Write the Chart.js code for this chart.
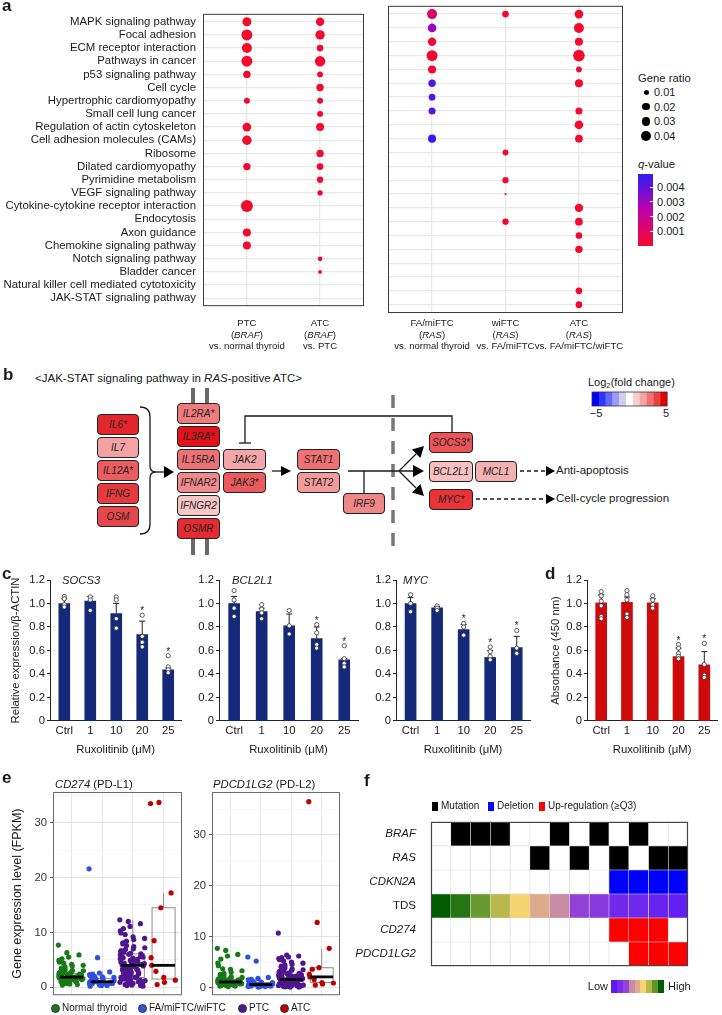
<!DOCTYPE html>
<html>
<head>
<meta charset="UTF-8">
<title>JAK-STAT signaling in RAS-positive ATC</title>
<script src="https://cdn.jsdelivr.net/npm/chart.js"></script>
<style>
  body { margin: 0; background: #fff; font-family: "Liberation Sans", Arial, sans-serif; color: #1a1a1a; }
  #page { position: relative; width: 722px; height: 1015px; overflow: hidden; }
  #page canvas, .t, .gene, .sw { position: absolute; }
  .t { white-space: nowrap; line-height: 1; }
  .t sub { font-size: 0.7em; vertical-align: -0.3em; line-height: 0; }
  .panel { font-weight: bold; font-size: 17px; }
  .xl { font-size: 9.6px; line-height: 11.5px; text-align: center; }
  .gene { box-sizing: border-box; border: 1.2px solid #222; border-radius: 4px; font-style: italic;
          font-size: 10px; display: flex; align-items: center; justify-content: center; color: #222; }
</style>
</head>
<body>
<div id="page">
<svg width="722" height="1015" style="position:absolute;left:0;top:0">
  <g fill="#6a6a6a">
    <rect x="191" y="388" width="4" height="15"/><rect x="205" y="388" width="4" height="15"/>
    <rect x="191" y="539" width="4" height="16"/><rect x="205" y="539" width="4" height="16"/>
  </g>
  <line x1="393" y1="395" x2="393" y2="556" stroke="#777" stroke-width="3.5" stroke-dasharray="13 10"/>
  <g stroke="#1a1a1a" stroke-width="1.3" fill="none">
    <path d="M140,407 Q150,407 150,417 L150,466 Q150,472 156,472 Q150,472 150,478 L150,524 Q150,534 140,534"/>
    <line x1="156" y1="472" x2="165" y2="472"/>
    <polyline points="452,432 452,416 245,416 245,443"/>
    <line x1="239" y1="443" x2="251" y2="443"/>
    <line x1="272" y1="471" x2="282" y2="471"/>
    <line x1="348" y1="471" x2="414" y2="471"/>
    <line x1="364" y1="471" x2="364" y2="493"/>
    <line x1="399" y1="471" x2="416" y2="454"/>
    <line x1="399" y1="471" x2="416" y2="488"/>
    <line x1="520" y1="471" x2="547" y2="471" stroke-dasharray="4 3"/>
    <line x1="476" y1="499" x2="547" y2="499" stroke-dasharray="4 3"/>
  </g>
  <g fill="#000">
    <polygon points="164,466 174,472 164,478"/>
    <polygon points="281,466 291,471 281,476"/>
    <polygon points="413,465 424,471 413,477"/>
    <polygon points="424,446 420.4,458 412,449.6"/>
    <polygon points="424,496 420.4,484 412,492.4"/>
    <polygon points="546,466 555,471 546,476"/>
    <polygon points="546,494 555,499 546,504"/>
  </g>
  <g id="fcbar"></g>
</svg>
</div>

<script>
// ---------------- data ----------------
// panel a: KEGG pathways, gene ratio and q-value per comparison
const pathways = ['MAPK signaling pathway', 'Focal adhesion', 'ECM receptor interaction', 'Pathways in cancer',
  'p53 signaling pathway', 'Cell cycle', 'Hypertrophic cardiomyopathy', 'Small cell lung cancer',
  'Regulation of actin cytoskeleton', 'Cell adhesion molecules (CAMs)', 'Ribosome', 'Dilated cardiomyopathy',
  'Pyrimidine metabolism', 'VEGF signaling pathway', 'Cytokine-cytokine receptor interaction', 'Endocytosis',
  'Axon guidance', 'Chemokine signaling pathway', 'Notch signaling pathway', 'Bladder cancer',
  'Natural killer cell mediated cytotoxicity', 'JAK-STAT signaling pathway'];
const ratioPtcBraf = [0.032, 0.048, 0.040, 0.048, 0.022, null, 0.014, null, 0.030, 0.035, null, 0.022, null, null, 0.058, null, 0.026, 0.026, null, null, null, null];
const qPtcBraf     = [0.0001, 0.0001, 0.0001, 0.0001, 0.0001, null, 0.0002, null, 0.0001, 0.0001, null, 0.0002, null, null, 0.0001, null, 0.0001, 0.0001, null, null, null, null];
const ratioAtcBraf = [0.028, 0.035, 0.018, 0.043, 0.013, 0.022, 0.014, 0.014, 0.026, null, 0.022, 0.018, 0.016, 0.011, null, null, null, null, 0.009, 0.006, null, null];
const qAtcBraf     = [0.0001, 0.0001, 0.0001, 0.0001, 0.0002, 0.0001, 0.0002, 0.0002, 0.0001, null, 0.0001, 0.0002, 0.0002, 0.0002, null, null, null, null, 0.0003, 0.0003, null, null];
const ratioFaRas   = [0.040, 0.030, 0.028, 0.048, 0.026, 0.022, 0.018, 0.020, null, 0.026, null, null, null, null, null, null, null, null, null, null, null, null];
const qFaRas       = [0.0012, 0.0031, 0.0002, 0.0001, 0.0002, 0.0043, 0.0043, 0.0042, null, 0.0049, null, null, null, null, null, null, null, null, null, null, null, null];
const ratioWiRas   = [0.018, null, null, null, null, null, null, null, null, null, 0.014, null, 0.016, 0.002, null, 0.016, null, null, null, null, null, null];
const qWiRas       = [0.0002, null, null, null, null, null, null, null, null, null, 0.0002, null, 0.0002, 0.0010, null, 0.0002, null, null, null, null, null, null];
const ratioAtcRas  = [0.030, 0.040, 0.026, 0.054, 0.013, 0.026, null, 0.020, 0.030, 0.024, null, null, null, null, 0.028, 0.024, 0.018, 0.022, null, null, 0.018, 0.018];
const qAtcRas      = [0.0001, 0.0001, 0.0001, 0.0001, 0.0002, 0.0001, null, 0.0001, 0.0001, 0.0001, null, null, null, null, 0.0001, 0.0001, 0.0002, 0.0001, null, null, 0.0002, 0.0002];
const sizeBreaks = [0.01, 0.02, 0.03, 0.04];
const qBreaks = [0.004, 0.003, 0.002, 0.001];

// panel c / d: ruxolitinib dose response
const doses = ['Ctrl', '1', '10', '20', '25'];
const socs3Mean = [1.00, 1.02, 0.915, 0.735, 0.435];
const socs3Err  = [1.04, 1.06, 1.00, 0.85, 0.45];
const socs3Pts  = [[1.06, 1.04, 0.99, 0.97], [1.056, 1.03, 0.94], [1.056, 1.03, 0.87, 0.79], [0.90, 0.72, 0.67, 0.63], [0.555, 0.46, 0.436, 0.41]];
const socs3Sig  = [0, 0, 0, 1, 1];
const bcl2l1Mean = [1.00, 0.93, 0.81, 0.70, 0.52];
const bcl2l1Err  = [1.06, 0.96, 0.91, 0.80, 0.53];
const bcl2l1Pts  = [[1.11, 1.03, 0.96, 0.89], [0.99, 0.95, 0.92, 0.87], [0.94, 0.81, 0.74], [0.82, 0.75, 0.65, 0.62], [0.64, 0.53, 0.49, 0.46]];
const bcl2l1Sig  = [0, 0, 0, 1, 1];
const mycMean = [1.00, 0.964, 0.777, 0.54, 0.625];
const mycErr  = [1.05, 0.975, 0.82, 0.60, 0.72];
const mycPts  = [[1.075, 1.0, 0.93], [0.98, 0.96, 0.94], [0.83, 0.80, 0.73], [0.63, 0.59, 0.55, 0.52], [0.77, 0.62, 0.575]];
const mycSig  = [0, 0, 1, 1, 1];
const absMean = [1.005, 1.01, 1.005, 0.547, 0.478];
const absErr  = [1.075, 1.055, 1.04, 0.62, 0.59];
const absPts  = [[1.10, 1.065, 1.02, 0.98, 0.89, 0.87], [1.11, 1.075, 1.03, 0.91, 0.88], [1.065, 1.03, 0.99, 0.96], [0.65, 0.62, 0.575, 0.55, 0.53], [0.66, 0.48, 0.39, 0.37]];
const absSig  = [0, 0, 0, 1, 1];

// panel e: FPKM per sample group
const groups = ['Normal thyroid', 'FA/miFTC/wiFTC', 'PTC', 'ATC'];
const cd274Normal = [7.7, 6.3, 5.9, 5.5, 5.2, 4.9, 4.6, 4.4, 4.2, 4.0, 3.9, 3.7, 3.5, 3.4, 3.2, 3.1, 3.0, 2.9, 2.8, 2.7, 2.6, 2.5, 2.5, 2.4, 2.3, 2.3, 2.2, 2.1, 2.1, 2.0, 2.0, 1.9, 1.9, 1.9, 1.8, 1.8, 1.8, 1.7, 1.7, 1.6, 1.6, 1.6, 1.5, 1.5, 1.5, 1.4, 1.4, 1.3, 1.3, 1.2, 1.2, 1.1, 1.0, 1.0, 0.9, 0.8, 0.7, 0.6, 0.5, 0.4];
const cd274Fa = [21.6, 5.4, 2.8, 2.6, 2.4, 2.3, 2.1, 2.0, 1.9, 1.8, 1.7, 1.6, 1.5, 1.4, 1.3, 1.2, 1.2, 1.1, 1.1, 1.0, 1.0, 1.0, 0.9, 0.9, 0.9, 0.8, 0.8, 0.8, 0.7, 0.7, 0.6, 0.6, 0.5, 0.5, 0.4, 0.3, 0.3, 0.2];
const cd274Ptc = [12.3, 12.0, 11.6, 11.1, 10.7, 10.3, 9.9, 9.6, 9.2, 8.9, 8.7, 8.4, 8.1, 7.9, 7.6, 7.4, 7.2, 7.0, 6.9, 6.7, 6.5, 6.4, 6.2, 6.1, 6.0, 5.9, 5.8, 5.6, 5.5, 5.4, 5.3, 5.2, 5.1, 5.0, 4.9, 4.8, 4.7, 4.6, 4.5, 4.4, 4.3, 4.2, 4.1, 4.0, 4.0, 3.9, 3.8, 3.7, 3.6, 3.5, 3.4, 3.3, 3.2, 3.1, 3.0, 2.9, 2.8, 2.7, 2.6, 2.5, 2.4, 2.3, 2.2, 2.1, 2.0, 1.9, 1.8, 1.8, 1.7, 1.6, 1.5, 1.5, 1.4, 1.3, 1.2, 1.2, 1.1, 1.0, 0.9, 0.9, 0.8, 0.7, 0.7, 0.6, 0.5, 0.5, 0.4, 0.3, 0.3, 0.2];
const cd274Atc = [33.5, 33.7, 17.2, 14.5, 8.5, 5.4, 4.0, 2.9, 1.8, 1.3, 0.9, 0.5];
const cd274Box = { q1: [1.45, 0.7, 1.8, 1.5], med: [1.85, 1.0, 4.0, 4.0], q3: [2.5, 1.6, 6.1, 14.5], lo: [0.4, 0.2, 0.2, 0.5], hi: [4.0, 2.9, 12.3, 17.2] };
const pdl2Normal = [7.7, 7.3, 6.5, 6.2, 5.6, 4.8, 4.3, 3.7, 3.6, 3.3, 3.0, 2.8, 2.6, 2.4, 2.3, 2.1, 2.0, 1.9, 1.8, 1.7, 1.6, 1.6, 1.5, 1.5, 1.4, 1.4, 1.3, 1.3, 1.2, 1.2, 1.2, 1.1, 1.1, 1.1, 1.0, 1.0, 1.0, 0.9, 0.9, 0.9, 0.8, 0.8, 0.8, 0.7, 0.7, 0.7, 0.6, 0.6, 0.5, 0.5, 0.4, 0.4, 0.3, 0.3, 0.2];
const pdl2Fa = [6.0, 5.2, 2.0, 1.8, 1.6, 1.5, 1.3, 1.2, 1.1, 1.0, 1.0, 0.9, 0.9, 0.8, 0.8, 0.7, 0.7, 0.7, 0.6, 0.6, 0.6, 0.6, 0.5, 0.5, 0.5, 0.4, 0.4, 0.4, 0.3, 0.3, 0.3, 0.2, 0.2, 0.2, 0.1];
const pdl2Ptc = [10.7, 6.4, 6.2, 6.0, 5.9, 5.7, 5.5, 5.2, 5.0, 4.8, 4.6, 4.4, 4.2, 4.0, 3.9, 3.7, 3.5, 3.4, 3.3, 3.2, 3.1, 3.0, 2.9, 2.8, 2.7, 2.6, 2.6, 2.5, 2.5, 2.4, 2.3, 2.3, 2.2, 2.1, 2.1, 2.0, 2.0, 1.9, 1.9, 1.8, 1.8, 1.7, 1.7, 1.6, 1.6, 1.6, 1.5, 1.5, 1.5, 1.4, 1.4, 1.3, 1.3, 1.3, 1.2, 1.2, 1.1, 1.1, 1.1, 1.0, 1.0, 1.0, 0.9, 0.9, 0.9, 0.8, 0.8, 0.8, 0.7, 0.7, 0.7, 0.6, 0.6, 0.6, 0.5, 0.5, 0.5, 0.4, 0.4, 0.4, 0.3, 0.3, 0.3, 0.2, 0.2, 0.2, 0.1, 0.1];
const pdl2Atc = [36.5, 12.8, 7.7, 3.9, 3.6, 2.6, 2.1, 1.6, 1.0, 0.9, 0.7, 0.5];
const pdl2Box = { q1: [0.65, 0.4, 0.7, 1.0], med: [1.1, 0.6, 1.6, 2.1], q3: [1.6, 1.0, 2.6, 3.9], lo: [0.2, 0.1, 0.1, 0.5], hi: [3.0, 1.8, 5.4, 7.6] };

// panel f: 13 RAS/BRAF ATC cases
const heatRows = ['BRAF', 'RAS', 'CDKN2A', 'TDS', 'CD274', 'PDCD1LG2'];
const brafMut    = [0, 1, 1, 1, 0, 0, 1, 0, 1, 0, 1, 0, 0];
const rasMut     = [0, 0, 0, 0, 0, 1, 0, 1, 0, 1, 0, 1, 1];
const cdkn2aDel  = [0, 0, 0, 0, 0, 0, 0, 0, 0, 1, 1, 1, 1];
const tdsScore   = [1.0, 0.95, 0.86, 0.75, 0.63, 0.5, 0.38, 0.24, 0.19, 0.09, 0.08, 0.05, 0.02];
const cd274Up    = [0, 0, 0, 0, 0, 0, 0, 0, 0, 1, 1, 1, 0];
const pdcd1lg2Up = [0, 0, 0, 0, 0, 0, 0, 0, 0, 0, 1, 1, 1];

// ---------------- helpers ----------------
Chart.defaults.font.family = '"Liberation Sans", Arial, sans-serif';
Chart.defaults.color = '#1a1a1a';
Chart.defaults.animation = false;
Chart.defaults.events = [];
Chart.defaults.plugins.legend.display = false;
Chart.defaults.plugins.tooltip.enabled = false;

const page = document.getElementById('page');

function put(html, x, y, css, anchor) {
  const d = document.createElement('div');
  d.className = 't';
  d.innerHTML = html;
  if (css) d.style.cssText = css;
  d.style.left = x + 'px';
  d.style.top = y + 'px';
  const tx = anchor === 'c' ? '-50%' : anchor === 'r' ? '-100%' : '0';
  d.style.transform = 'translate(' + tx + ', -50%)';
  page.appendChild(d);
  return d;
}

function makeChart(left, top, w, h, cfg) {
  const c = document.createElement('canvas');
  c.width = w; c.height = h;
  c.style.left = left + 'px'; c.style.top = top + 'px';
  c.style.width = w + 'px'; c.style.height = h + 'px';
  page.appendChild(c);
  cfg.options.responsive = false;
  cfg.options.maintainAspectRatio = false;
  cfg.options.devicePixelRatio = 1;
  return new Chart(c, cfg);
}

const frame = {
  id: 'frame',
  afterDraw(chart, args, o) {
    const a = chart.chartArea, ctx = chart.ctx;
    ctx.save();
    ctx.strokeStyle = o.color; ctx.lineWidth = o.width;
    ctx.strokeRect(a.left + 0.5, a.top + 0.5, a.right - a.left - 1, a.bottom - a.top - 1);
    ctx.restore();
  }
};

function mix(c1, c2, t) { return c1.map((v, i) => Math.round(v + (c2[i] - v) * t)); }
function qColor(q) {
  const lo = [245, 10, 40], mid = [190, 0, 170], hi = [40, 30, 250];
  const t = Math.min(q / 0.005, 1);
  const c = t < 0.5 ? mix(lo, mid, t * 2) : mix(mid, hi, t * 2 - 1);
  return 'rgb(' + c.join(',') + ')';
}
const dotR = v => 25 * Math.sqrt(v);

// ---------------- panel a ----------------
function dotChart(left, width, padL, padR, cols, yLabels) {
  const n = cols.length;
  return makeChart(left, 0, width, 320, {
    type: 'bubble',
    data: {
      datasets: cols.map((col, k) => ({
        data: col.ratio.map((v, i) => v == null ? null : { x: k + 1, y: i, r: dotR(v), q: col.q[i] }).filter(Boolean),
        backgroundColor: c => c.raw ? qColor(c.raw.q) : '#f00',
        borderWidth: 0
      }))
    },
    options: {
      layout: { padding: { left: padL, right: padR, top: 5, bottom: 7 } },
      scales: {
        x: {
          type: 'linear', min: 0.4, max: n + 0.6,
          afterBuildTicks: s => { s.ticks = cols.map((c, k) => ({ value: k + 1 })); },
          ticks: { display: false },
          grid: { color: '#e8e8e8', lineWidth: 1.3, drawTicks: false },
          border: { display: false },
          afterFit: s => { s.height = 0; }
        },
        y: {
          type: 'linear', reverse: true, min: -0.6, max: pathways.length - 0.4,
          afterBuildTicks: s => { s.ticks = pathways.map((p, i) => ({ value: i })); },
          ticks: { display: yLabels, autoSkip: false, callback: v => pathways[v], font: { size: 11.4 }, color: '#1a1a1a', padding: 7 },
          grid: { color: '#e8e8e8', lineWidth: 1.3, drawTicks: false },
          border: { display: false },
          afterFit: s => { s.width = yLabels ? 203 : 0; }
        }
      },
      plugins: { frame: { color: '#3a3a3a', width: 1 } }
    },
    plugins: [frame]
  });
}

const aLeft = dotChart(0, 370, 0, 6, [
  { ratio: ratioPtcBraf, q: qPtcBraf },
  { ratio: ratioAtcBraf, q: qAtcBraf }
], true);
const aRight = dotChart(380, 250, 8, 7, [
  { ratio: ratioFaRas, q: qFaRas },
  { ratio: ratioWiRas, q: qWiRas },
  { ratio: ratioAtcRas, q: qAtcRas }
], false);

[[aLeft, 0, [['PTC', 'BRAF', 'vs. normal thyroid'], ['ATC', 'BRAF', 'vs. PTC']]],
 [aRight, 380, [['FA/miFTC', 'RAS', 'vs. normal thyroid'], ['wiFTC', 'RAS', 'vs. FA/miFTC'], ['ATC', 'RAS', 'vs. FA/miFTC/wiFTC']]]]
  .forEach(([ch, off, labs]) => labs.forEach((l, k) => {
    const d = put(l[0] + '<br>(<i>' + l[1] + '</i>)<br>' + l[2], off + ch.scales.x.getPixelForValue(k + 1), 334, '', 'c');
    d.classList.add('xl');
  }));

// legend: gene ratio + q-value
put('Gene ratio', 638, 79, 'font-size:11.3px');
sizeBreaks.forEach((v, i) => {
  const y = 92 + i * 14.7, r = dotR(v);
  const s = document.createElement('div');
  s.className = 'sw';
  s.style.cssText = 'background:#000;border-radius:50%;';
  Object.assign(s.style, { left: (646 - r) + 'px', top: (y - r) + 'px', width: 2 * r + 'px', height: 2 * r + 'px' });
  page.appendChild(s);
  put(v.toFixed(2), 654, y, 'font-size:11px');
});
put('<i>q</i>-value', 638, 165, 'font-size:11.3px');
const qbar = document.createElement('div');
qbar.className = 'sw';
qbar.style.cssText = 'left:638px;top:174px;width:15px;height:72px;background:linear-gradient(to top,' +
  qColor(0) + ',' + qColor(0.0025) + ',' + qColor(0.0049) + ');';
page.appendChild(qbar);
qBreaks.forEach(q => {
  const y = 246 - q / 0.0049 * 72;
  put(q.toFixed(3), 657, y, 'font-size:11px');
  const tk = document.createElement('div');
  tk.className = 'sw';
  tk.style.cssText = 'background:#fff;height:1px;width:3px;left:650px;top:' + (y - 0.5) + 'px';
  page.appendChild(tk);
});

// ---------------- panel b (diagram) ----------------
put('&lt;JAK-STAT signaling pathway in <i>RAS</i>-positive ATC&gt;', 35, 379, 'font-size:11.5px');
const genes = [
  ['IL6*', 97, 414, 42, '#e3262b'], ['IL7', 97, 437, 42, '#f3a3a3'], ['IL12A*', 97, 460, 42, '#ec5c60'],
  ['IFNG', 97, 483, 42, '#e63a3e'], ['OSM', 97, 506, 42, '#e6474b'],
  ['IL2RA*', 177, 403, 43, '#ef7b7d'], ['IL3RA*', 177, 426, 43, '#e1121a'], ['IL15RA', 177, 449, 43, '#ee7275'],
  ['IFNAR2', 177, 472, 43, '#f08a8c'], ['IFNGR2', 177, 495, 43, '#f7c6c6'], ['OSMR', 177, 518, 43, '#e32b30'],
  ['JAK2', 223, 449, 43, '#f4a7a8'], ['JAK3*', 223, 472, 43, '#eb5b5e'],
  ['STAT1', 297, 449, 43, '#ef7173'], ['STAT2', 297, 472, 43, '#f39a9b'],
  ['IRF9', 343, 493, 42, '#ef8688'],
  ['SOCS3*', 429, 432, 44, '#eb5357'], ['BCL2L1', 429, 461, 44, '#f7c0c1'], ['MCL1', 475, 461, 42, '#f3b1b2'],
  ['MYC*', 429, 489, 44, '#e83337']
];
genes.forEach(([name, x, y, w, fill]) => {
  const g = document.createElement('div');
  g.className = 'gene';
  g.textContent = name;
  Object.assign(g.style, { left: x + 'px', top: y + 'px', width: w + 'px', height: '21px', background: fill });
  page.appendChild(g);
});
put('Anti-apoptosis', 556, 471, 'font-size:11.5px');
put('Cell-cycle progression', 556, 499, 'font-size:11.5px');
put('Log<sub>2</sub>(fold change)', 588, 382, 'font-size:11px');
const fcSteps = ['#0000ff', '#3434ff', '#6666fc', '#9c9cf8', '#cfcff6', '#ffffff', '#f8cccc', '#f5a2a2', '#f07272', '#ea4242', '#e60000'];
document.getElementById('fcbar').innerHTML = fcSteps.map((c, i) =>
  '<rect x="' + (592 + i * 75 / 11) + '" y="392" width="' + (75 / 11 + 0.3) + '" height="14" fill="' + c + '"/>').join('') +
  '<rect x="592" y="392" width="75" height="14" fill="none" stroke="#333" stroke-width="0.8"/>';
put('\u22125', 596, 413, 'font-size:11px', 'c');
put('5', 666, 413, 'font-size:11px', 'c');

// ---------------- panels c, d ----------------
const barExtras = {
  id: 'barExtras',
  afterDatasetDraw(chart, args, o) {
    if (args.index !== 1) return;
    const { ctx, scales: { x, y } } = chart;
    ctx.save();
    ctx.strokeStyle = '#222'; ctx.lineWidth = 1;
    o.err.forEach((e, i) => {
      const px = x.getPixelForValue(i), top = y.getPixelForValue(e);
      ctx.beginPath();
      ctx.moveTo(px, y.getPixelForValue(o.mean[i])); ctx.lineTo(px, top);
      ctx.moveTo(px - 3, top); ctx.lineTo(px + 3, top);
      ctx.stroke();
    });
    ctx.restore();
  },
  afterDatasetsDraw(chart, args, o) {
    const { ctx, scales: { x, y } } = chart;
    ctx.save();
    ctx.fillStyle = '#222'; ctx.font = '10px "Liberation Sans"'; ctx.textAlign = 'center';
    o.sig.forEach((s, i) => {
      if (!s) return;
      const top = Math.max(o.err[i], ...o.pts[i]);
      ctx.fillText('*', x.getPixelForValue(i), y.getPixelForValue(top) - 1);
    });
    ctx.restore();
  }
};

function barPanel(left, width, axisW, padR, color, mean, err, pts, sig, yTitle) {
  const circles = [];
  pts.forEach((arr, i) => arr.forEach(v => circles.push({ x: i, y: v })));
  return makeChart(left, 560, width, 200, {
    type: 'bar',
    data: {
      datasets: [
        { type: 'scatter', data: circles, order: 0, pointRadius: 2.1, pointBackgroundColor: '#fff', pointBorderColor: '#333', pointBorderWidth: 0.8 },
        { type: 'bar', data: mean.map((m, i) => ({ x: i, y: m })), order: 1, backgroundColor: color, barThickness: 11 }
      ]
    },
    options: {
      layout: { padding: { top: 20, right: padR, left: 0, bottom: 3 } },
      scales: {
        x: {
          type: 'linear', offset: false, min: -0.55, max: 4.5,
          afterBuildTicks: s => { s.ticks = doses.map((d, i) => ({ value: i })); },
          ticks: { callback: v => doses[v], font: { size: 11.3 }, padding: 3, maxRotation: 0, autoSkip: false },
          grid: { display: false, drawTicks: false },
          border: { display: true, color: '#222', width: 1 },
          title: { display: true, text: 'Ruxolitinib (\u03bcM)', font: { size: 11.3 }, padding: { top: 3, bottom: 0 } }
        },
        y: {
          min: 0, max: 1.2,
          afterBuildTicks: s => { s.ticks = [0, 0.2, 0.4, 0.6, 0.8, 1.0, 1.2].map(v => ({ value: v })); },
          ticks: { callback: v => v === 0 ? '0' : v.toFixed(1), font: { size: 11.3 }, padding: 2 },
          grid: { drawOnChartArea: false, tickLength: 3, color: '#222' },
          border: { display: true, color: '#222', width: 1 },
          title: yTitle ? { display: true, text: yTitle, font: { size: 11.3 }, padding: { top: 9, bottom: 0 } } : { display: false },
          afterFit: s => { s.width = axisW; }
        }
      },
      plugins: { barExtras: { mean, err, pts, sig } }
    },
    plugins: [barExtras]
  });
}

const navy = '#15297a', red = '#cf0a0a';
barPanel(0, 186, 50, 0, navy, socs3Mean, socs3Err, socs3Pts, socs3Sig, 'Relative expression/\u03b2-ACTIN');
barPanel(190, 175, 29, 7, navy, bcl2l1Mean, bcl2l1Err, bcl2l1Pts, bcl2l1Sig, null);
barPanel(366, 170, 30, 6, navy, mycMean, mycErr, mycPts, mycSig, null);
barPanel(540, 182, 47, 2, red, absMean, absErr, absPts, absSig, 'Absorbance (450 nm)');
put('<i>SOCS3</i>', 62, 581, 'font-size:11.3px');
put('<i>BCL2L1</i>', 232, 581, 'font-size:11.3px');
put('<i>MYC</i>', 403, 581, 'font-size:11.3px');

// ---------------- panel e ----------------
const groupColors = ['#177a17', '#2f4fe0', '#4f1591', '#c00000'];
const jit = i => ((i * 0.7548777 + i * i * 0.5698403) % 1 - 0.5) * 0.85;

const boxes = {
  id: 'boxes',
  beforeDatasetsDraw(chart, args, o) {
    const { ctx, scales: { x, y } } = chart;
    ctx.save();
    ctx.strokeStyle = '#8c8c8c'; ctx.lineWidth = 1;
    o.q1.forEach((q1, g) => {
      const cx = x.getPixelForValue(g + 1), hw = x.getPixelForValue(g + 1.375) - cx;
      const y1 = y.getPixelForValue(q1), y3 = y.getPixelForValue(o.q3[g]);
      ctx.strokeRect(cx - hw, y3, 2 * hw, y1 - y3);
      ctx.beginPath();
      ctx.moveTo(cx, y3); ctx.lineTo(cx, y.getPixelForValue(o.hi[g]));
      ctx.moveTo(cx, y1); ctx.lineTo(cx, y.getPixelForValue(o.lo[g]));
      ctx.stroke();
    });
    ctx.restore();
  },
  afterDatasetsDraw(chart, args, o) {
    const { ctx, scales: { x, y } } = chart;
    ctx.save();
    ctx.strokeStyle = '#000'; ctx.lineWidth = 2.8;
    o.med.forEach((m, g) => {
      const cx = x.getPixelForValue(g + 1), hw = x.getPixelForValue(g + 1.375) - cx, py = y.getPixelForValue(m);
      ctx.beginPath(); ctx.moveTo(cx - hw, py); ctx.lineTo(cx + hw, py); ctx.stroke();
    });
    ctx.restore();
  }
};

function boxPanel(left, width, axisW, padR, yMin, yMax, sets, stats, yTitle) {
  const minorTicks = [0, 5, 10, 15, 20, 25, 30, 35];
  return makeChart(left, 770, width, 235, {
    type: 'scatter',
    data: {
      datasets: sets.map((vals, g) => ({
        data: vals.map((v, i) => ({ x: g + 1 + jit(i), y: v })),
        pointRadius: 2.6, pointBorderWidth: 0,
        pointBackgroundColor: groupColors[g]
      }))
    },
    options: {
      layout: { padding: { top: 22, right: padR, left: 0, bottom: 8 } },
      scales: {
        x: {
          type: 'linear', min: 0.4, max: 4.6,
          afterBuildTicks: s => { s.ticks = groups.map((g, k) => ({ value: k + 1 })); },
          ticks: { display: false },
          grid: { color: '#e6e6e6', lineWidth: 1, drawTicks: false },
          border: { display: false },
          afterFit: s => { s.height = 0; }
        },
        y: {
          min: yMin, max: yMax,
          afterBuildTicks: s => { s.ticks = minorTicks.filter(v => v <= yMax).map(v => ({ value: v })); },
          ticks: { callback: v => v % 10 === 0 ? String(v) : '', font: { size: 11.3 }, color: '#333', padding: 3 },
          grid: {
            color: c => c.tick && c.tick.value % 10 === 0 ? '#e3e3e3' : '#f2f2f2',
            lineWidth: c => c.tick && c.tick.value % 10 === 0 ? 1 : 0.7,
            tickColor: c => c.tick && c.tick.value % 10 === 0 ? '#555' : 'rgba(0,0,0,0)',
            tickLength: 3
          },
          border: { display: false },
          title: yTitle ? { display: true, text: yTitle, font: { size: 12.5 }, padding: { top: 10.5, bottom: 0 } } : { display: false },
          afterFit: s => { s.width = axisW; }
        }
      },
      plugins: { boxes: stats, frame: { color: '#6a6a6a', width: 1 } }
    },
    plugins: [boxes, frame]
  });
}

boxPanel(0, 190, 53, 8, -1.45, 35.6, [cd274Normal, cd274Fa, cd274Ptc, cd274Atc], cd274Box, 'Gene expression level (FPKM)');
boxPanel(192, 155, 20, 7, -1.5, 38.4, [pdl2Normal, pdl2Fa, pdl2Ptc, pdl2Atc], pdl2Box, null);
put('<i>CD274</i> (PD-L1)', 55, 785, 'font-size:11.3px');
put('<i>PDCD1LG2</i> (PD-L2)', 213, 785, 'font-size:11.3px');
[[55, 0], [142, 1], [242, 2], [284, 3]].forEach(([x, g]) => {
  const s = document.createElement('div');
  s.className = 'sw';
  s.style.cssText = 'width:9px;height:9px;border-radius:50%;box-sizing:border-box;border:0.8px solid #333;left:' +
    (x - 4.5) + 'px;top:' + (1008 - 4.5) + 'px;background:' + groupColors[g];
  page.appendChild(s);
  put(groups[g], x + 7, 1008, 'font-size:10px');
});

// ---------------- panel f ----------------
const tdsStops = ['#5c1cf6', '#7a2ee8', '#9444d4', '#c98aa6', '#dcab8e', '#f6d672', '#b8b84a', '#5e962c', '#005c00'];
function hexRgb(h) { return [1, 3, 5].map(i => parseInt(h.substr(i, 2), 16)); }
function tdsColor(s) {
  const p = s * (tdsStops.length - 1), i = Math.min(Math.floor(p), tdsStops.length - 2);
  return 'rgb(' + mix(hexRgb(tdsStops[i]), hexRgb(tdsStops[i + 1]), p - i).join(',') + ')';
}
function cellColor(r, c) {
  if (r === 0) return brafMut[c] ? '#000' : '#fff';
  if (r === 1) return rasMut[c] ? '#000' : '#fff';
  if (r === 2) return cdkn2aDel[c] ? '#0000ff' : '#fff';
  if (r === 3) return tdsColor(tdsScore[c]);
  if (r === 4) return cd274Up[c] ? '#ff0000' : '#fff';
  return pdcd1lg2Up[c] ? '#ff0000' : '#fff';
}
makeChart(340, 808, 355, 172, {
  type: 'bar',
  data: {
    labels: heatRows,
    datasets: tdsScore.map((_, c) => ({
      data: heatRows.map(() => [c, c + 1]),
      backgroundColor: heatRows.map((_, r) => cellColor(r, c)),
      borderColor: '#d6d6d6', borderWidth: 0.6, borderSkipped: false,
      grouped: false, barPercentage: 1, categoryPercentage: 1
    }))
  },
  options: {
    indexAxis: 'y',
    layout: { padding: { top: 7, right: 7, left: 0, bottom: 5 } },
    scales: {
      x: { type: 'linear', min: 0, max: tdsScore.length, display: false },
      y: {
        ticks: {
          font: c => ({ size: 11.5, style: heatRows[c.index] === 'TDS' ? 'normal' : 'italic' }),
          color: '#1a1a1a', padding: 7
        },
        grid: { display: false },
        border: { display: false },
        afterFit: s => { s.width = 91; }
      }
    },
    plugins: { frame: { color: '#444', width: 1.2 } }
  },
  plugins: [frame]
});
[[432, '#000', 'Mutation'], [488, '#0000ff', 'Deletion'], [539, '#ff0000', 'Up-regulation (\u2265Q3)']].forEach(([x, c, t]) => {
  const s = document.createElement('div');
  s.className = 'sw';
  s.style.cssText = 'width:6px;height:9px;top:801.5px;left:' + x + 'px;background:' + c;
  page.appendChild(s);
  put(t, x + 9, 806, 'font-size:10px');
});
const tdsBar = document.createElement('div');
tdsBar.className = 'sw';
tdsBar.style.cssText = 'left:611px;top:980px;width:53px;height:13px;background:linear-gradient(to right,' +
  tdsStops.map((c, i) => c + ' ' + (i * 100 / 9).toFixed(1) + '%,' + c + ' ' + ((i + 1) * 100 / 9).toFixed(1) + '%').join(',') + ')';
page.appendChild(tdsBar);
put('Low', 608, 986, 'font-size:11px', 'r');
put('High', 668, 986, 'font-size:11px');

// ---------------- panel letters ----------------
put('a', 2, 5, '', 'l').classList.add('panel');
put('b', 3, 374, '', 'l').classList.add('panel');
put('c', 2, 573, '', 'l').classList.add('panel');
put('d', 545, 573, '', 'l').classList.add('panel');
put('e', 2, 777, '', 'l').classList.add('panel');
put('f', 364, 780, '', 'l').classList.add('panel');
</script>
</body>
</html>
